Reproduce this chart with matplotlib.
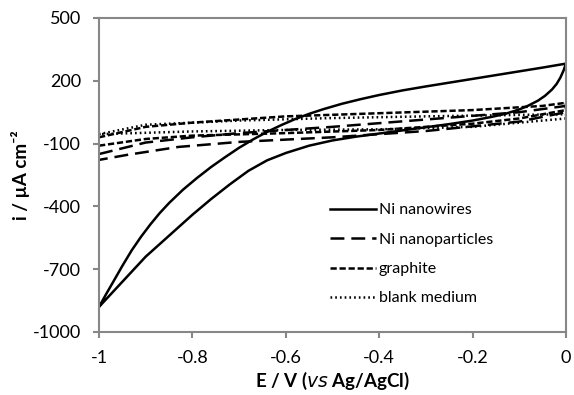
import matplotlib
matplotlib.use("Agg")
import matplotlib.pyplot as plt

plt.rcParams['font.family'] = ['Lato', 'DejaVu Sans']
plt.rcParams['lines.scale_dashes'] = False
plt.rcParams['axes.unicode_minus'] = False

# Ni nanowires loop (upper branch -1 -> 0, lower branch 0 -> -1)
nw_up_E = [-1.0, -0.985, -0.97, -0.95, -0.93, -0.91, -0.89, -0.87, -0.85, -0.82, -0.79, -0.76, -0.73,
           -0.70, -0.67, -0.64, -0.61, -0.58, -0.55, -0.52, -0.48, -0.44, -0.40, -0.35, -0.30, -0.25,
           -0.20, -0.15, -0.10, -0.05, 0.0]
nw_up_i = [-880, -820, -762, -684, -610, -545, -486, -432, -384, -320, -264, -212, -165,
           -120, -80, -44, -12, 17, 42, 64, 90, 112, 132, 154, 173, 191,
           209, 227, 245, 263, 282]
nw_lo_E = [0.0, -0.005, -0.012, -0.02, -0.03, -0.045, -0.06, -0.08, -0.10, -0.13, -0.16, -0.20, -0.25,
           -0.30, -0.35, -0.40, -0.45, -0.50, -0.55, -0.60, -0.64, -0.68, -0.72, -0.76, -0.80, -0.85,
           -0.90, -0.95, -1.0]
nw_lo_i = [282, 250, 215, 185, 158, 128, 105, 82, 63, 42, 27, 10, -7,
           -22, -37, -52, -67, -85, -110, -145, -180, -230, -295, -365, -440, -540,
           -640, -760, -880]

# Ni nanoparticles loop
np_up_E = [-1.0, -0.9, -0.8, -0.7, -0.5, -0.3, -0.1, 0.0]
np_up_i = [-150, -95, -70, -50, -20, 15, 50, 80]
np_lo_E = [0.0, -0.1, -0.3, -0.5, -0.7, -0.83, -0.94, -1.0]
np_lo_i = [50, 5, -40, -70, -92, -116, -154, -178]

# graphite loop
gr_up_E = [-1.0, -0.9, -0.8, -0.6, -0.4, -0.2, -0.05, 0.0]
gr_up_i = [-70, -20, 0, 30, 45, 60, 80, 95]
gr_lo_E = [0.0, -0.1, -0.2, -0.4, -0.6, -0.8, -0.9, -1.0]
gr_lo_i = [60, 20, -5, -35, -50, -62, -78, -110]

# blank medium loop
bl_up_E = [-1.0, -0.9, -0.7, -0.5, -0.3, -0.1, 0.0]
bl_up_i = [-55, -10, 10, 22, 30, 37, 40]
bl_lo_E = [0.0, -0.2, -0.4, -0.6, -0.8, -1.0]
bl_lo_i = [20, -20, -32, -35, -42, -55]

labels = ['Ni nanowires', 'Ni nanoparticles', 'graphite', 'blank medium']
xticks = [-1, -0.8, -0.6, -0.4, -0.2, 0]
xticklabels = ['-1', '-0.8', '-0.6', '-0.4', '-0.2', '0']
yticks = [-1000, -700, -400, -100, 200, 500]
yticklabels = ['-1000', '-700', '-400', '-100', '200', '500']

fig = plt.figure(figsize=(5.74, 3.95), dpi=100)
ax = fig.add_axes([0.1725, 0.1595, 0.8135, 0.795])

lw = 1.8
ax.plot(nw_up_E + nw_lo_E, nw_up_i + nw_lo_i, color='black', lw=lw, ls='-', label=labels[0],
        solid_joinstyle='round')
ax.plot(np_up_E + np_lo_E, np_up_i + np_lo_i, color='black', lw=lw, ls=(0, (10, 5)), label=labels[1])
ax.plot(gr_up_E + gr_lo_E, gr_up_i + gr_lo_i, color='black', lw=lw, ls=(0, (4.5, 2)), label=labels[2])
ax.plot(bl_up_E + bl_lo_E, bl_up_i + bl_lo_i, color='black', lw=lw, ls=(0, (1.2, 2.2)), label=labels[3])

ax.set_xlim(-1, 0)
ax.set_ylim(-1000, 500)
ax.set_xticks(xticks)
ax.set_xticklabels(xticklabels)
ax.set_yticks(yticks)
ax.set_yticklabels(yticklabels)

for s in ax.spines.values():
    s.set_color('#878787')
    s.set_linewidth(1.5)
ax.tick_params(axis='both', direction='out', length=4.5, width=1.5, color='#878787',
               labelsize=13, labelcolor='black')
ax.tick_params(axis='x', pad=8.5)
ax.tick_params(axis='y', pad=8.5)

ax.set_xlabel(r'E / V ($\mathbf{\mathit{vs}}$ Ag/AgCl)', fontsize=13.5, fontweight='bold', labelpad=3)
ax.set_ylabel('i / µA cm⁻²', family=['Lato', 'DejaVu Sans'], fontsize=13.5, fontweight='bold', labelpad=2)

leg = ax.legend(loc='upper left', bbox_to_anchor=(0.495, 0.41), frameon=False,
                fontsize=11.5, handlelength=2.9, handletextpad=0.15, labelspacing=0.95,
                borderpad=0, borderaxespad=0)

fig.savefig('out.png', dpi=100)
